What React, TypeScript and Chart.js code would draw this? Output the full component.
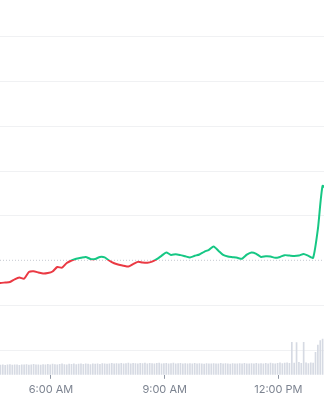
import React, { useEffect, useRef } from 'react';
import { Chart, registerables } from 'chart.js';

Chart.register(...registerables);

// Time in minutes after midnight
const priceStart = 272.5;
const priceStep = 7.5;
const priceValues = [
  0.09700, 0.09701, 0.09703, 0.09705, 0.09717, 0.09725, 0.09720, 0.09750, 0.09753, 0.09748,
  0.09743, 0.09745, 0.09752, 0.09772, 0.09769, 0.09790, 0.09801, 0.09809, 0.09813, 0.09817,
  0.09808, 0.09808, 0.09817, 0.09815, 0.09800, 0.09789, 0.09782, 0.09778, 0.09774, 0.09785,
  0.09795, 0.09792, 0.09791, 0.09796, 0.09807, 0.09822, 0.09837, 0.09826, 0.09829, 0.09825,
  0.09820, 0.09815, 0.09822, 0.09828, 0.09840, 0.09849, 0.09864, 0.09845, 0.09826, 0.09819,
  0.09816, 0.09813, 0.09809, 0.09827, 0.09837, 0.09831, 0.09817, 0.09820, 0.09819, 0.09813,
  0.09817, 0.09825, 0.09823, 0.09821, 0.09823, 0.09830, 0.09822, 0.09813, 0.09941, 0.10134,
  0.10111,
];

const volumeStart = 280;
const volumeStep = 3.75;
const volumeValues = [
  48, 50, 47, 49, 51, 48, 50, 49, 47, 50,
  49, 51, 48, 50, 52, 49, 50, 48, 51, 50,
  52, 50, 53, 51, 49, 52, 54, 51, 50, 53,
  52, 54, 51, 53, 55, 52, 54, 53, 51, 54,
  53, 55, 52, 56, 54, 53, 55, 57, 54, 56,
  55, 57, 54, 56, 58, 55, 57, 56, 54, 57,
  56, 58, 55, 57, 56, 54, 57, 58, 55, 56,
  57, 55, 56, 58, 54, 56, 57, 55, 56, 54,
  56, 55, 57, 54, 56, 55, 53, 56, 55, 54,
  56, 54, 55, 57, 54, 56, 55, 53, 56, 55,
  54, 56, 55, 57, 54, 55, 56, 54, 57, 55,
  56, 54, 57, 55, 58, 56, 54, 57, 59, 56,
  58, 60, 57, 162, 58, 160, 62, 57, 161, 59,
  56, 60, 58, 112, 148, 170, 178,
];

const timeTicks = [360, 540, 720];
const priceGridTicks = [0.094, 0.096, 0.1, 0.102, 0.104, 0.106, 0.108];
const referencePrice = 0.09802;

const xMin = 279.3;
const xMax = 792.2;
const priceMin = 0.092915;
const priceMax = 0.109626;
const volumeMax = 1865;

const GREEN = '#16c784';
const RED = '#ea3943';

function formatTime(m: number): string {
  const h = Math.floor(m / 60);
  const mm = Math.round(m % 60);
  const ap = h >= 12 ? 'PM' : 'AM';
  const h12 = h % 12 === 0 ? 12 : h % 12;
  return `${h12}:${String(mm).padStart(2, '0')} ${ap}`;
}

export default function App() {
  const canvasRef = useRef<HTMLCanvasElement | null>(null);

  useEffect(() => {
    document.body.style.margin = '0';
    const canvas = canvasRef.current;
    if (!canvas) return;

    const priceData = priceValues.map((v, i) => ({ x: priceStart + i * priceStep, y: v }));
    const volumeData = volumeValues.map((v, i) => ({ x: volumeStart + i * volumeStep, y: v }));
    const refData = [
      { x: xMin, y: referencePrice },
      { x: xMax, y: referencePrice },
    ];

    const chart = new Chart(canvas, {
      type: 'line',
      data: {
        datasets: [
          {
            type: 'line',
            data: priceData,
            yAxisID: 'y',
            borderWidth: 2,
            pointRadius: 0,
            tension: 0.2,
            fill: false,
            order: 1,
            borderColor: (ctx: any) => {
              const c = ctx.chart;
              const area = c.chartArea;
              if (!area) return GREEN;
              const yb = c.scales.y.getPixelForValue(referencePrice);
              const r = Math.min(1, Math.max(0, (yb - area.top) / (area.bottom - area.top)));
              const g = c.ctx.createLinearGradient(0, area.top, 0, area.bottom);
              g.addColorStop(0, GREEN);
              g.addColorStop(r, GREEN);
              g.addColorStop(r, RED);
              g.addColorStop(1, RED);
              return g;
            },
          },
          {
            type: 'line',
            data: refData,
            yAxisID: 'y',
            borderColor: '#c5c9d0',
            borderWidth: 1,
            borderDash: [1, 2],
            pointRadius: 0,
            fill: false,
            order: 2,
          },
          {
            type: 'bar',
            data: volumeData,
            yAxisID: 'y2',
            backgroundColor: '#d6dae3',
            barThickness: 1,
            order: 3,
          } as any,
        ],
      },
      options: {
        animation: false,
        responsive: true,
        maintainAspectRatio: false,
        layout: { padding: { left: 0, right: 0, top: 0, bottom: -1 } },
        plugins: { legend: { display: false }, tooltip: { enabled: false } },
        scales: {
          x: {
            type: 'linear',
            min: xMin,
            max: xMax,
            offset: false,
            afterBuildTicks: (scale: any) => {
              scale.ticks = timeTicks.map((v) => ({ value: v }));
            },
            grid: {
              offset: false,
              drawOnChartArea: false,
              drawTicks: true,
              tickLength: 4,
              color: '#8f96a3',
            },
            border: { display: false },
            ticks: {
              padding: 4.5,
              maxRotation: 0,
              autoSkip: false,
              color: '#7d8491',
              font: { family: 'Inter', size: 11 },
              callback: (v: any) => formatTime(Number(v)),
            },
          },
          y: {
            type: 'linear',
            position: 'left',
            min: priceMin,
            max: priceMax,
            afterBuildTicks: (scale: any) => {
              scale.ticks = priceGridTicks.map((v) => ({ value: v }));
            },
            grid: { color: '#f0f1f3', drawTicks: false },
            border: { display: false },
            ticks: { display: false },
          },
          y2: {
            type: 'linear',
            position: 'right',
            min: 0,
            max: volumeMax,
            display: false,
            grid: { display: false },
          },
        },
      },
    });

    return () => chart.destroy();
  }, []);

  return (
    <div style={{ position: 'relative', width: 324, height: 400 }}>
      <canvas ref={canvasRef} />
    </div>
  );
}
